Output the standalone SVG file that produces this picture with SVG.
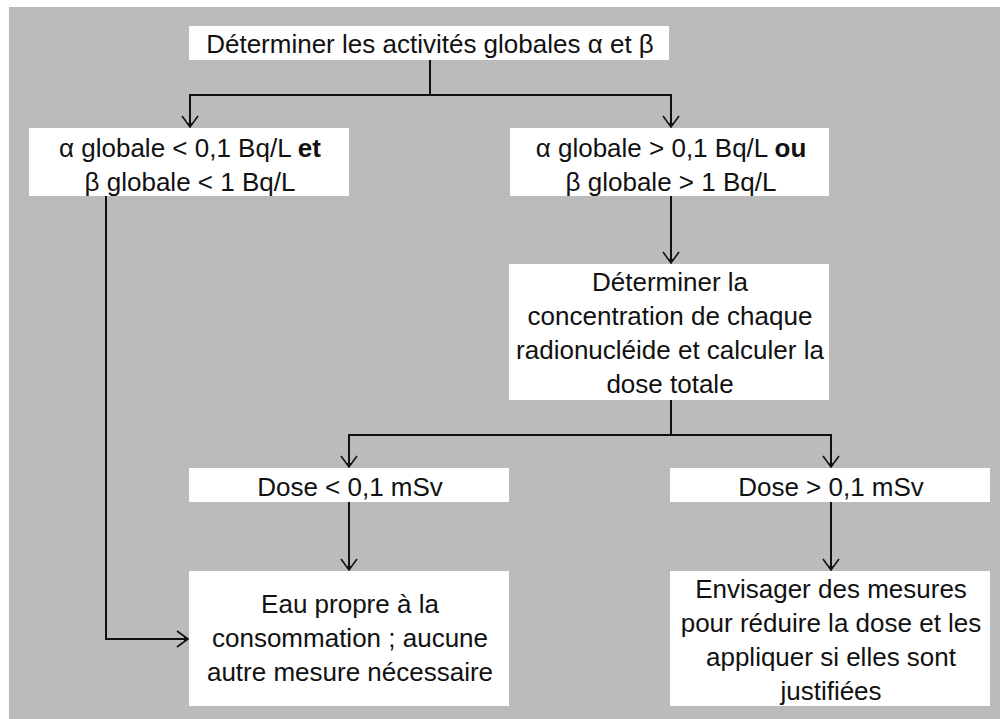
<svg xmlns="http://www.w3.org/2000/svg" width="1000" height="719" viewBox="0 0 1000 719">
<defs>
<style>
.bg{fill:#bbbbbb}
.box{fill:#ffffff}
.t{font-family:"Liberation Sans",Arial,sans-serif;font-size:26px;fill:#111111;text-anchor:middle}
.b{font-weight:bold}
.c{fill:none;stroke:#111111;stroke-width:2}
</style>
<marker id="arr" markerUnits="userSpaceOnUse" viewBox="-12 -10 14 20" markerWidth="14" markerHeight="20" refX="0" refY="0" orient="auto">
<path d="M-11,-8 L0,0 L-11,8" fill="none" stroke="#111111" stroke-width="1.6"/>
<path d="M-4,-2.5 L1,0 L-4,2.5 Z" fill="#111111"/>
</marker>
</defs>
<rect class="bg" x="9" y="7" width="991" height="712"/>
<g id="connectors">
<path class="c" d="M430,60 V95 H190 V127" marker-end="url(#arr)"/>
<path class="c" d="M430,60 V95 H671 V127" marker-end="url(#arr)"/>
<path class="c" d="M106,196 V639 H188" marker-end="url(#arr)"/>
<path class="c" d="M671,196 V263" marker-end="url(#arr)"/>
<path class="c" d="M671,400 V435 H349 V467" marker-end="url(#arr)"/>
<path class="c" d="M671,400 V435 H831 V467" marker-end="url(#arr)"/>
<path class="c" d="M349,502 V570" marker-end="url(#arr)"/>
<path class="c" d="M831,502 V570" marker-end="url(#arr)"/>
</g>
<g id="n_start">
<rect class="box" x="189" y="26" width="480" height="34"/>
<text class="t" x="430" y="53">Déterminer les activités globales α et β</text>
</g>
<g id="n_low">
<rect class="box" x="29" y="128" width="320" height="68"/>
<text class="t" x="190" y="157">α globale &lt; 0,1 Bq/L <tspan class="b">et</tspan></text>
<text class="t" x="190" y="191">β globale &lt; 1 Bq/L</text>
</g>
<g id="n_high">
<rect class="box" x="510" y="128" width="319" height="68"/>
<text class="t" x="671" y="157">α globale &gt; 0,1 Bq/L <tspan class="b">ou</tspan></text>
<text class="t" x="671" y="191">β globale &gt; 1 Bq/L</text>
</g>
<g id="n_dose">
<rect class="box" x="509" y="264" width="320" height="136"/>
<text class="t" x="670" y="291">Déterminer la</text>
<text class="t" x="670" y="325">concentration de chaque</text>
<text class="t" x="670" y="359">radionucléide et calculer la</text>
<text class="t" x="670" y="393">dose totale</text>
</g>
<g id="n_doselow">
<rect class="box" x="189" y="468" width="320" height="34"/>
<text class="t" x="350" y="496">Dose &lt; 0,1 mSv</text>
</g>
<g id="n_dosehigh">
<rect class="box" x="670" y="468" width="320" height="34"/>
<text class="t" x="831" y="496">Dose &gt; 0,1 mSv</text>
</g>
<g id="n_ok">
<rect class="box" x="189" y="571" width="320" height="135"/>
<text class="t" x="350" y="613">Eau propre à la</text>
<text class="t" x="350" y="647">consommation ; aucune</text>
<text class="t" x="350" y="681">autre mesure nécessaire</text>
</g>
<g id="n_act">
<rect class="box" x="670" y="571" width="320" height="135"/>
<text class="t" x="831" y="598">Envisager des mesures</text>
<text class="t" x="831" y="632">pour réduire la dose et les</text>
<text class="t" x="831" y="666">appliquer si elles sont</text>
<text class="t" x="831" y="700">justifiées</text>
</g>
</svg>
